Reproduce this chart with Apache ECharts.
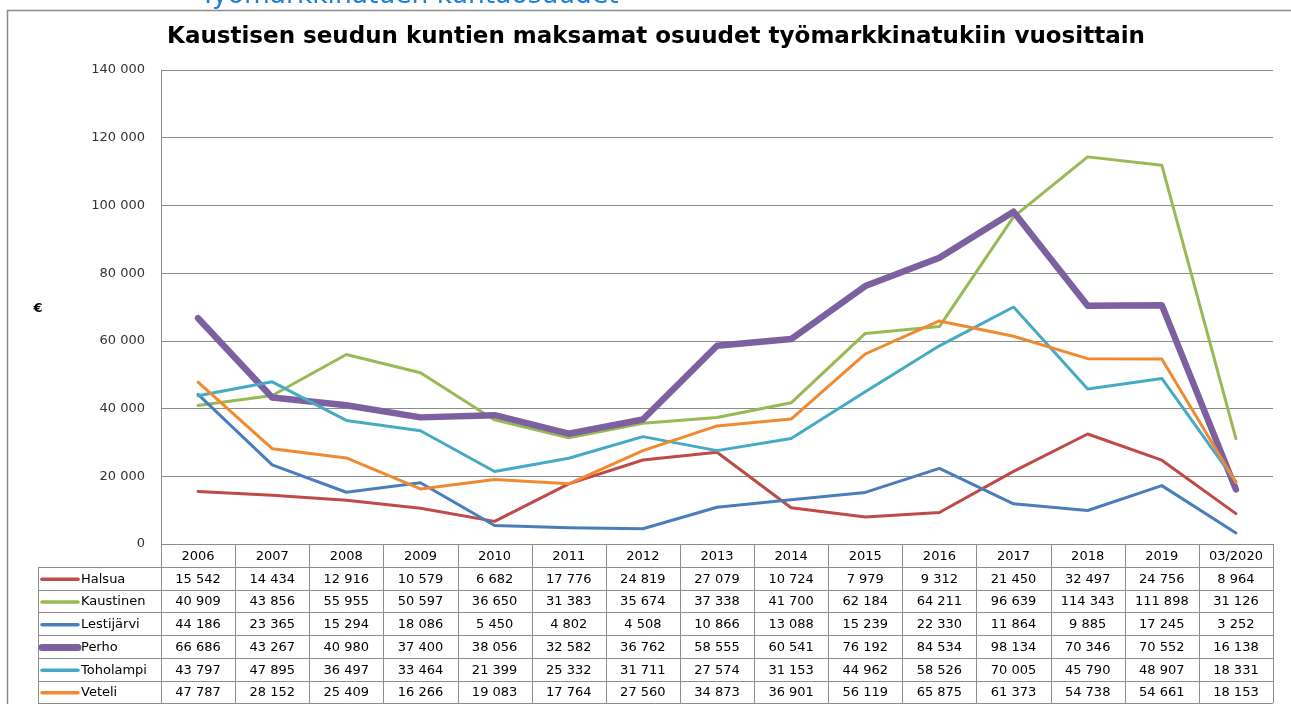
<!DOCTYPE html>
<html style="height: 100%">
<head>
	<meta charset="utf-8">
</head>
<body style="height: 100%; margin: 0; background: #fff">
<div id="container" style="width: 1291px; height: 704px"></div>
<script type="text/javascript" src="https://cdn.jsdelivr.net/npm/echarts@6/dist/echarts.min.js"></script>
<script type="text/javascript">
    var years = ['2006', '2007', '2008', '2009', '2010', '2011', '2012', '2013', '2014', '2015', '2016', '2017', '2018', '2019', '03/2020'];

    var halsua = [15542, 14434, 12916, 10579, 6682, 17776, 24819, 27079, 10724, 7979, 9312, 21450, 32497, 24756, 8964];
    var kaustinen = [40909, 43856, 55955, 50597, 36650, 31383, 35674, 37338, 41700, 62184, 64211, 96639, 114343, 111898, 31126];
    var lestijarvi = [44186, 23365, 15294, 18086, 5450, 4802, 4508, 10866, 13088, 15239, 22330, 11864, 9885, 17245, 3252];
    var perho = [66686, 43267, 40980, 37400, 38056, 32582, 36762, 58555, 60541, 76192, 84534, 98134, 70346, 70552, 16138];
    var toholampi = [43797, 47895, 36497, 33464, 21399, 25332, 31711, 27574, 31153, 44962, 58526, 70005, 45790, 48907, 18331];
    var veteli = [47787, 28152, 25409, 16266, 19083, 17764, 27560, 34873, 36901, 56119, 65875, 61373, 54738, 54661, 18153];

    var names = ['Halsua', 'Kaustinen', 'Lestijärvi', 'Perho', 'Toholampi', 'Veteli'];
    var rows = [halsua, kaustinen, lestijarvi, perho, toholampi, veteli];
    var colors = ['#BE4B48', '#98B954', '#4A7EBB', '#7D60A0', '#46AAC5', '#F08A30'];
    var widths = [3, 3, 3, 6.5, 3, 3];

    var FONT = '"DejaVu Sans", sans-serif';
    var gLeft = 161, gRight = 1273, gTop = 70, gBottom = 544;
    var tblLeft = 38, headH = 23, rowH = 22.7;

    function fmt(v) {
        return String(v).replace(/\B(?=(\d{3})+(?!\d))/g, ' ');
    }

    var dom = document.getElementById("container");
    var myChart = echarts.init(dom);

    // table under the plot, built from the data arrays
    var graphics = [];
    var colW = (gRight - gLeft) / years.length;
    var tblBottom = gBottom + headH + rowH * rows.length;
    var lineStyle = { stroke: '#8c8c8c', lineWidth: 1 };
    var frameStyle = { stroke: '#8c8c8c', lineWidth: 1.5 };

    // outer frame: only the top and left edges are inside the picture
    graphics.push({ type: 'line', shape: { x1: 7, y1: 10.5, x2: 1291, y2: 10.5 }, style: frameStyle, silent: true });
    graphics.push({ type: 'line', shape: { x1: 7.5, y1: 10, x2: 7.5, y2: 704 }, style: frameStyle, silent: true });
    // cut-off slide heading
    graphics.push({ type: 'text', x: 200, y: 10, style: { text: 'Työmarkkinatuen kuntaosuudet', fill: '#1F7FD4', font: '26.5px ' + FONT, verticalAlign: 'bottom' } });
    // euro label
    graphics.push({ type: 'text', x: 38, y: 309, style: { text: '€', fill: '#000', font: 'bold 13px ' + FONT, align: 'center', verticalAlign: 'middle' } });

    // horizontal lines
    graphics.push({ type: 'line', shape: { x1: gLeft, y1: gBottom + 0.5, x2: gRight, y2: gBottom + 0.5 }, style: lineStyle });
    for (var r = 0; r <= rows.length; r++) {
        var y = Math.round(gBottom + headH + r * rowH) + 0.5;
        graphics.push({ type: 'line', shape: { x1: tblLeft, y1: y, x2: gRight, y2: y }, style: lineStyle });
    }
    // vertical lines
    graphics.push({ type: 'line', shape: { x1: tblLeft + 0.5, y1: gBottom + headH, x2: tblLeft + 0.5, y2: tblBottom }, style: lineStyle });
    for (var c = 0; c <= years.length; c++) {
        var x = Math.round(gLeft + c * colW) + 0.5;
        graphics.push({ type: 'line', shape: { x1: x, y1: gBottom, x2: x, y2: tblBottom }, style: lineStyle });
    }
    // header
    years.forEach(function (yr, i) {
        graphics.push({ type: 'text', x: gLeft + (i + 0.5) * colW, y: gBottom + headH / 2 + 1, style: { text: yr, fill: '#000', font: '13px ' + FONT, align: 'center', verticalAlign: 'middle' } });
    });
    // rows
    rows.forEach(function (vals, r) {
        var cy = gBottom + headH + (r + 0.5) * rowH + 1;
        graphics.push({ type: 'line', shape: { x1: tblLeft + 4, y1: cy, x2: tblLeft + 40, y2: cy }, style: { stroke: colors[r], lineWidth: widths[r] + 0.5, lineCap: 'round' } });
        graphics.push({ type: 'text', x: tblLeft + 43, y: cy, style: { text: names[r], fill: '#000', font: '13px ' + FONT, verticalAlign: 'middle' } });
        vals.forEach(function (v, i) {
            graphics.push({ type: 'text', x: gLeft + (i + 0.5) * colW, y: cy, style: { text: fmt(v), fill: '#000', font: '13px ' + FONT, align: 'center', verticalAlign: 'middle' } });
        });
    });

    var series = rows.map(function (vals, r) {
        return {
            name: names[r],
            type: 'line',
            data: vals,
            symbol: 'none',
            lineStyle: { color: colors[r], width: widths[r], cap: 'round', join: 'round' },
            itemStyle: { color: colors[r] }
        };
    });

    var option = {
        backgroundColor: '#fff',
        animation: false,
        title: {
            text: 'Kaustisen seudun kuntien maksamat osuudet työmarkkinatukiin vuosittain',
            left: 651,
            textAlign: 'center',
            top: 21,
            textStyle: { fontFamily: FONT, fontWeight: 'bold', fontSize: 23, color: '#000' }
        },
        grid: { left: gLeft, right: 1291 - gRight, top: gTop, bottom: 704 - gBottom },
        xAxis: {
            type: 'category',
            data: years,
            boundaryGap: true,
            axisLine: { show: false },
            axisTick: { show: false },
            axisLabel: { show: false }
        },
        yAxis: {
            type: 'value',
            min: 0,
            max: 140000,
            interval: 20000,
            axisLine: { show: true, lineStyle: { color: '#8c8c8c', width: 1 } },
            axisTick: { show: false },
            axisLabel: { formatter: fmt, color: '#333', fontFamily: FONT, fontSize: 13, margin: 16 },
            splitLine: { lineStyle: { color: '#8c8c8c', width: 1 } }
        },
        graphic: graphics,
        series: series
    };

    myChart.setOption(option);
</script>
</body>
</html>
